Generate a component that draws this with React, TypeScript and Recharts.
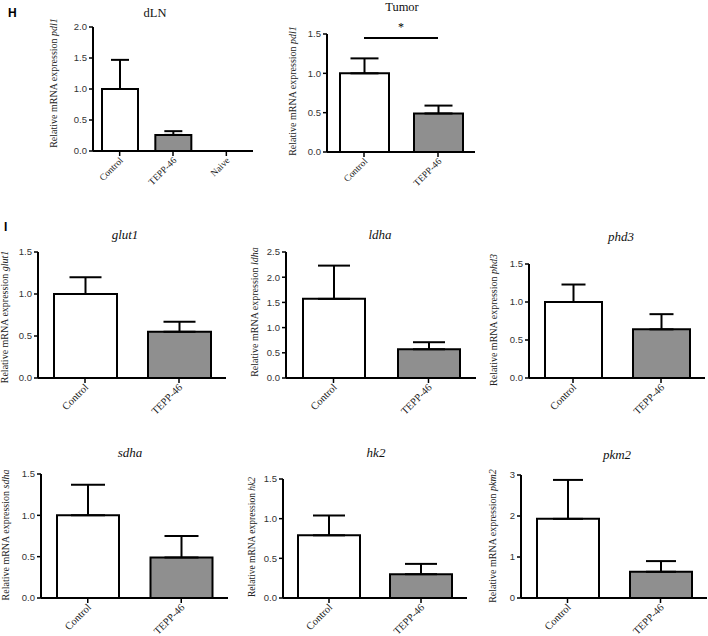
import React from 'react';
import { BarChart, Bar, XAxis, YAxis, Cell, ErrorBar, ReferenceLine } from 'recharts';

// ---------- data ----------
const dlnCategories = ['Control', 'TEPP-46', 'Naive'];
const dlnValues = [1.0, 0.26, null];
const dlnTops = [1.47, 0.32, null];
const dlnTicks = [0, 0.5, 1.0, 1.5, 2.0];

const tumorCategories = ['Control', 'TEPP-46'];
const tumorValues = [1.0, 0.49];
const tumorTops = [1.19, 0.59];
const tumorTicks = [0, 0.5, 1.0, 1.5];
const tumorSigLevel = 1.45;

const geneCategories = ['Control', 'TEPP-46'];
const glut1Values = [1.0, 0.55];
const glut1Tops = [1.2, 0.67];
const ldhaValues = [1.57, 0.57];
const ldhaTops = [2.23, 0.71];
const phd3Values = [1.0, 0.64];
const phd3Tops = [1.23, 0.84];
const sdhaValues = [1.0, 0.49];
const sdhaTops = [1.37, 0.75];
const hk2Values = [0.79, 0.3];
const hk2Tops = [1.04, 0.43];
const pkm2Values = [1.93, 0.64];
const pkm2Tops = [2.88, 0.9];

const ticks15 = [0, 0.5, 1.0, 1.5];
const ticks25 = [0, 0.5, 1.0, 1.5, 2.0, 2.5];
const ticks3 = [0, 1, 2, 3];

// ---------- styling ----------
const SERIF = "'Liberation Serif', 'Times New Roman', serif";
const SANS = "'Liberation Sans', Arial, sans-serif";
const GRAY = '#8f8f8f';
const LEFT = 40;
const TOP = 14;
const RIGHT = 6;
const BOTTOM = 70;

function CatTick(props: any) {
  const { x, y, payload, fontSize } = props;
  const px = x + 4;
  const py = y + 3;
  return (
    <text
      x={px}
      y={py}
      transform={`rotate(-45, ${px}, ${py})`}
      textAnchor="end"
      fontSize={fontSize}
      fontFamily={SERIF}
      fill="#222"
    >
      {payload.value}
    </text>
  );
}

type PanelProps = {
  categories: string[];
  values: (number | null)[];
  tops: (number | null)[];
  ticks: number[];
  decimals: number;
  x0: number;
  x1: number;
  yTop: number;
  yBottom: number;
  barSize: number;
  capHalf: number;
  catFont: number;
  sig?: number;
};

function Panel(p: PanelProps) {
  const data = p.categories.map((c, i) => {
    const v = p.values[i];
    const t = p.tops[i];
    return {
      name: c,
      value: v,
      err: v == null || t == null ? null : [0, t - v],
    };
  });
  const width = p.x1 - p.x0 + LEFT + RIGHT;
  const height = p.yBottom - p.yTop + TOP + BOTTOM;
  const max = p.ticks[p.ticks.length - 1];
  return (
    <div style={{ position: 'absolute', left: p.x0 - LEFT, top: p.yTop - TOP }}>
      <BarChart
        width={width}
        height={height}
        data={data}
        margin={{ top: TOP, right: RIGHT, bottom: 0, left: 0 }}
        barCategoryGap={0}
      >
        <XAxis
          dataKey="name"
          height={BOTTOM}
          interval={0}
          axisLine={{ stroke: '#000', strokeWidth: 2 }}
          tickLine={{ stroke: '#000', strokeWidth: 1.5 }}
          tickSize={5}
          tick={<CatTick fontSize={p.catFont} />}
        />
        <YAxis
          width={LEFT}
          type="number"
          domain={[0, max]}
          ticks={p.ticks}
          allowDataOverflow
          interval={0}
          axisLine={{ stroke: '#000', strokeWidth: 2 }}
          tickLine={{ stroke: '#000', strokeWidth: 1.5 }}
          tickSize={4}
          tickMargin={2}
          tick={{ fill: '#333', fontSize: 9.5, fontFamily: SANS }}
          tickFormatter={(v: number) => v.toFixed(p.decimals)}
        />
        <Bar dataKey="value" barSize={p.barSize} stroke="#000" strokeWidth={2} isAnimationActive={false}>
          {data.map((d, i) => (
            <Cell key={i} fill={i === 0 ? '#ffffff' : GRAY} />
          ))}
          <ErrorBar
            dataKey="err"
            direction="y"
            width={p.capHalf}
            stroke="#000"
            strokeWidth={2}
            isAnimationActive={false}
          />
        </Bar>
        {p.sig != null && (
          <ReferenceLine
            segment={[
              { x: p.categories[0], y: p.sig },
              { x: p.categories[1], y: p.sig },
            ]}
            stroke="#000"
            strokeWidth={2}
            label={{ value: '*', position: 'top', offset: 7, fontSize: 12, fontFamily: SERIF, fill: '#000' }}
          />
        )}
      </BarChart>
    </div>
  );
}

function YLabel({ x, y, gene, size = 10 }: { x: number; y: number; gene: string; size?: number }) {
  return (
    <text
      x={x}
      y={y}
      transform={`rotate(-90, ${x}, ${y})`}
      textAnchor="middle"
      fontSize={size}
      fontFamily={SERIF}
      fill="#222"
    >
      Relative mRNA expression <tspan fontStyle="italic">{gene}</tspan>
    </text>
  );
}

function Title({ x, y, text, italic = true, size = 13 }: { x: number; y: number; text: string; italic?: boolean; size?: number }) {
  return (
    <text x={x} y={y} textAnchor="middle" fontSize={size} fontFamily={SERIF} fontStyle={italic ? 'italic' : 'normal'} fill="#111">
      {text}
    </text>
  );
}

export default function App() {
  return (
    <div style={{ position: 'absolute', left: 0, top: 0, width: 708, height: 636, background: '#fff', overflow: 'hidden' }}>
      <Panel categories={dlnCategories} values={dlnValues} tops={dlnTops} ticks={dlnTicks} decimals={1}
        x0={93} x1={253} yTop={27} yBottom={151} barSize={36} capHalf={9} catFont={9.5} />
      <Panel categories={tumorCategories} values={tumorValues} tops={tumorTops} ticks={tumorTicks} decimals={1}
        x0={327} x1={475} yTop={34} yBottom={152} barSize={49} capHalf={14} catFont={9.5} sig={tumorSigLevel} />

      <Panel categories={geneCategories} values={glut1Values} tops={glut1Tops} ticks={ticks15} decimals={1}
        x0={38} x1={226} yTop={252} yBottom={378} barSize={63} capHalf={16} catFont={10.5} />
      <Panel categories={geneCategories} values={ldhaValues} tops={ldhaTops} ticks={ticks25} decimals={1}
        x0={286} x1={476} yTop={252} yBottom={378} barSize={62} capHalf={16} catFont={10.5} />
      <Panel categories={geneCategories} values={phd3Values} tops={phd3Tops} ticks={ticks15} decimals={1}
        x0={529} x1={705} yTop={264} yBottom={378} barSize={57} capHalf={12} catFont={10.5} />

      <Panel categories={geneCategories} values={sdhaValues} tops={sdhaTops} ticks={ticks15} decimals={1}
        x0={41} x1={228} yTop={474} yBottom={598} barSize={62} capHalf={17} catFont={10.5} />
      <Panel categories={geneCategories} values={hk2Values} tops={hk2Tops} ticks={ticks15} decimals={1}
        x0={283} x1={467} yTop={479} yBottom={598} barSize={62} capHalf={16} catFont={10.5} />
      <Panel categories={geneCategories} values={pkm2Values} tops={pkm2Tops} ticks={ticks3} decimals={0}
        x0={521} x1={707} yTop={475} yBottom={598} barSize={62} capHalf={15} catFont={10.5} />

      <svg width={708} height={636} style={{ position: 'absolute', left: 0, top: 0, pointerEvents: 'none' }}>
        <text x={8} y={17} fontSize={12} fontWeight="bold" fontFamily={SANS} fill="#000">H</text>
        <text x={4} y={231} fontSize={12} fontWeight="bold" fontFamily={SANS} fill="#000">I</text>

        <Title x={155} y={17} text="dLN" italic={false} size={12.5} />
        <Title x={402} y={11} text="Tumor" italic={false} size={12.5} />
        <Title x={125} y={239} text="glut1" />
        <Title x={380} y={239} text="ldha" />
        <Title x={621} y={241} text="phd3" />
        <Title x={130} y={457} text="sdha" />
        <Title x={376} y={457} text="hk2" />
        <Title x={617} y={459} text="pkm2" />

        <YLabel x={56.5} y={83} gene="pdl1" />
        <YLabel x={295.5} y={91} gene="pdl1" />
        <YLabel x={7.5} y={317} gene="glut1" />
        <YLabel x={257.5} y={312} gene="ldha" />
        <YLabel x={496.5} y={320} gene="phd3" />
        <YLabel x={8.5} y={535} gene="sdha" />
        <YLabel x={254.5} y={537} gene="hk2" size={9.5} />
        <YLabel x={495.5} y={536} gene="pkm2" />
      </svg>
    </div>
  );
}
